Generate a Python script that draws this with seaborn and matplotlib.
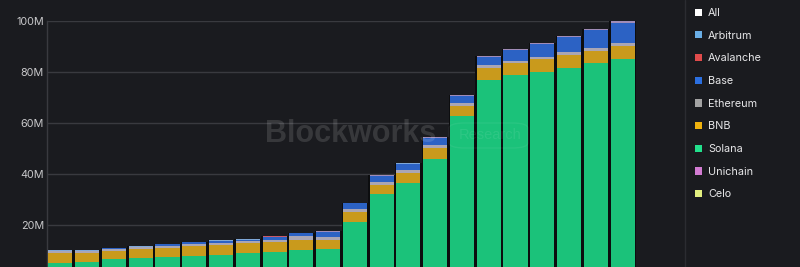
import matplotlib
matplotlib.use("Agg")
import matplotlib.pyplot as plt
import seaborn as sns
import pandas as pd
import numpy as np
from matplotlib.patches import Patch, FancyBboxPatch
from matplotlib.lines import Line2D

# ---------------- data (values in millions) ----------------
periods = ["2023-10", "2023-11", "2023-12", "2024-01", "2024-02", "2024-03",
           "2024-04", "2024-05", "2024-06", "2024-07", "2024-08", "2024-09",
           "2024-10", "2024-11", "2024-12", "2025-01", "2025-02", "2025-03",
           "2025-04", "2025-05", "2025-06", "2025-07"]
solana    = [5.2, 5.5, 6.5, 6.9, 7.3, 8.0, 8.2, 9.0, 9.4, 10.2, 10.5, 21.2,
             32.0, 36.4, 45.8, 62.7, 76.9, 78.7, 80.1, 81.7, 83.4, 85.2]
bnb       = [3.8, 3.7, 3.3, 3.5, 3.8, 3.8, 3.9, 3.8, 3.8, 3.9, 3.6, 4.0,
             3.6, 3.9, 4.5, 3.9, 4.6, 4.7, 4.9, 5.0, 5.0, 5.1]
ethereum  = [0.9, 0.6, 0.8, 0.8, 0.7, 0.8, 0.9, 0.9, 1.0, 1.6, 1.3, 1.2,
             1.3, 1.3, 1.1, 1.3, 1.3, 0.9, 1.0, 1.3, 1.2, 0.9]
base      = [0.0, 0.0, 0.2, 0.3, 0.6, 0.6, 0.8, 0.5, 1.0, 1.1, 1.7, 2.1,
             2.4, 2.5, 2.7, 2.7, 2.9, 4.2, 4.9, 5.8, 6.8, 8.0]
arbitrum  = [0.3, 0.3, 0.3, 0.3, 0.3, 0.3, 0.3, 0.2, 0.2, 0.1, 0.2, 0.1,
             0.1, 0.1, 0.1, 0.1, 0.1, 0.1, 0.1, 0.1, 0.1, 0.2]
avalanche = [0.0, 0.0, 0.0, 0.0, 0.0, 0.0, 0.0, 0.2, 0.1, 0.0, 0.0, 0.0,
             0.0, 0.0, 0.0, 0.0, 0.0, 0.0, 0.0, 0.0, 0.0, 0.0]
unichain  = [0.0, 0.0, 0.0, 0.0, 0.0, 0.0, 0.0, 0.0, 0.2, 0.1, 0.2, 0.2,
             0.2, 0.2, 0.3, 0.3, 0.3, 0.3, 0.3, 0.3, 0.3, 0.5]
celo      = [0.0] * 22

y_ticks = [20, 40, 60, 80, 100]
y_tick_labels = ["20M", "40M", "60M", "80M", "100M"]

legend_names = ["All", "Arbitrum", "Avalanche", "Base", "Ethereum", "BNB",
                "Solana", "Unichain", "Celo"]
legend_colors = ["#ffffff", "#6aaee6", "#e04b4b", "#2b6fe0", "#a3a3a3",
                 "#efb20e", "#22e08c", "#d27bd2", "#e2ef80"]

# stacking order bottom -> top, with bar colours
stack_names = ["Solana", "BNB", "Ethereum", "Base", "Arbitrum", "Avalanche",
               "Unichain", "Celo"]
stack_values = [solana, bnb, ethereum, base, arbitrum, avalanche, unichain, celo]
stack_colors = ["#1bc27a", "#c99a1c", "#aaa6b4", "#2c62c4", "#7fa8d8",
                "#c85a6a", "#a08cb8", "#d6e07a"]

df = pd.DataFrame({"period": periods})
for n, v in zip(stack_names, stack_values):
    df[n] = v
df["total"] = df[stack_names].sum(axis=1)

# ---------------- figure ----------------
BG = "#1a1b1f"
GRID = "#393a3f"
sns.set_theme(style="dark")
plt.rcParams["font.family"] = ["Inter", "DejaVu Sans"]

fig = plt.figure(figsize=(8, 2.67), dpi=100, facecolor=BG)
ax = fig.add_axes([47 / 800, -9 / 267, 589 / 800, 255 / 267])
ax.set_facecolor(BG)

# dark backing to produce the dark gaps between bars
sns.barplot(data=df, x="period", y="total", color="#0c0d0f", width=1.0,
            saturation=1, errorbar=None, linewidth=0, ax=ax, zorder=2)

cum = df[stack_names].cumsum(axis=1)
for n, c in reversed(list(zip(stack_names, stack_colors))):
    tmp = pd.DataFrame({"period": periods, "val": cum[n]})
    sns.barplot(data=tmp, x="period", y="val", color=c, width=0.9,
                saturation=1, errorbar=None, linewidth=0, ax=ax, zorder=3)

ax.set_xlim(-0.5, len(periods) - 0.5)
ax.set_ylim(0, 100)
ax.set_yticks(y_ticks)
ax.set_yticklabels(y_tick_labels)
ax.yaxis.grid(True, color=GRID, linewidth=1.0, zorder=0)
ax.xaxis.grid(False)
ax.set_axisbelow(True)
ax.set_xlabel("")
ax.set_ylabel("")
ax.tick_params(axis="y", length=0, pad=2.2, labelsize=7.8, labelcolor="#c8c8ca")
ax.tick_params(axis="x", length=0, labelbottom=False)
for s in ["top", "right", "bottom"]:
    ax.spines[s].set_visible(False)
ax.spines["left"].set_color(GRID)
ax.spines["left"].set_linewidth(1.0)

# watermark
fig.text(351 / 800, 1 - 134 / 267, "Blockworks", ha="center", va="center",
         fontsize=22, fontweight="bold", family="Liberation Sans",
         color="white", alpha=0.13, zorder=10)
fig.text(490 / 800, 1 - 135 / 267, "Research", ha="center", va="center",
         fontsize=10.5, family="Liberation Sans", color="white", alpha=0.08,
         zorder=10)
box = FancyBboxPatch((449 / 800, 1 - 148 / 267), 79 / 800, 25 / 267,
                     boxstyle="round,pad=0,rounding_size=0.02",
                     transform=fig.transFigure, facecolor="none",
                     edgecolor="white", alpha=0.06, linewidth=1.0, zorder=10)
fig.patches.append(box)

# legend separator
fig.add_artist(Line2D([685 / 800, 685 / 800], [0, 1], transform=fig.transFigure,
                      color="#2b2c31", linewidth=1.0))

handles = [Patch(facecolor=c, edgecolor="none") for c in legend_colors]
leg = fig.legend(handles, legend_names, loc="upper left",
                 bbox_to_anchor=(695 / 800, 1 - 8 / 267), frameon=False,
                 fontsize=7.8, labelcolor="#e6e6e8", handlelength=0.65,
                 handleheight=0.65, handletextpad=0.55, labelspacing=1.17,
                 borderpad=0, borderaxespad=0)

fig.savefig("out.png", dpi=100, facecolor=BG)
